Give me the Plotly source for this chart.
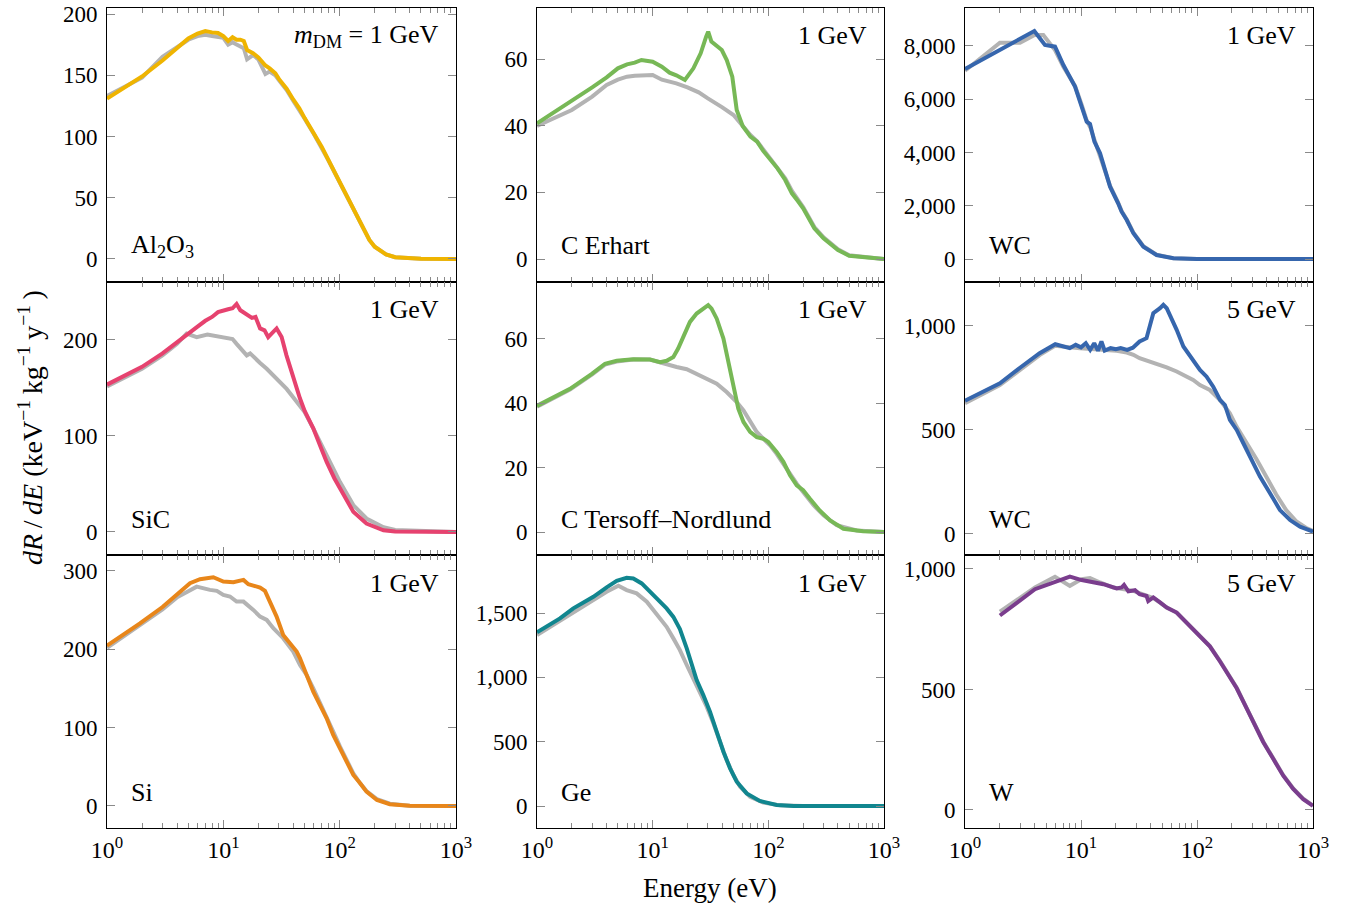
import plotly.graph_objects as go
from plotly.subplots import make_subplots

# ---------------- data: energy (eV) and dR/dE (keV^-1 kg^-1 y^-1) ----------------
# Al2O3, 1 GeV
AL2O3_E = [1, 2, 3, 4, 5, 6, 7, 8, 9, 10, 11, 12, 13, 14, 15, 16, 18, 20, 23, 25, 28, 30, 35, 40, 45, 50,
           60, 70, 80, 90, 100, 120, 140, 160, 180, 200, 250, 300, 400, 500, 1000]
AL2O3_MD = [131, 149, 162, 172, 180, 184, 186, 185, 184.5, 182, 178, 181, 179, 179, 178, 170.6, 168, 164.6,
            158, 155.6, 151.6, 147, 139, 130, 123, 115, 102.6, 91.7, 80.8, 71.3, 63, 48, 34.5, 23.7, 15.5,
            10, 3.8, 1.4, 0.3, 0.1, 0]
AL2O3_REF = [133, 148, 165, 173, 179, 182, 183, 182, 181, 180.5, 175, 177, 175, 173, 172, 163,
             166.5, 163, 151, 153, 150, 146, 138, 129, 122, 114.5, 102, 91, 80.5, 71, 62.5, 48, 34.5, 23.7,
             15.5, 10, 3.8, 1.4, 0.3, 0.1, 0]

# C (Erhart potential), 1 GeV
CE_E_MD = [1, 2, 3, 4, 5, 6, 7, 8, 9, 10, 12, 14, 16, 18, 19, 22.5, 26, 29, 30.2, 32.2, 36, 39.6, 43.7,
           48.8, 53.3, 57, 60, 70, 80, 90, 100, 120, 140, 160, 180, 200, 250, 300, 400, 500, 1000]
CE_MD = [40.7, 47.4, 51.5, 54.5, 57.2, 58.4, 58.9, 59.7, 59.5, 59.2, 57.7, 55.9, 55.1, 54, 53.7, 57.2,
         61.7, 66.7, 68.2, 65.2, 63.7, 62.7, 59.7, 54.7, 44.7, 41.7, 39.9, 36.7, 35.2, 32.5, 30.7, 27.2,
         23.7, 19.7, 17.4, 15.2, 9.2, 6.2, 2.7, 1, 0]
CE_E_REF = [1, 2, 3, 4, 5, 6, 7, 8, 10, 12, 14, 16, 20, 25, 30, 35, 40, 50, 60, 70, 80, 90, 100, 120, 140,
            160, 180, 200, 250, 300, 400, 500, 1000]
CE_REF = [39.9, 44.7, 48.7, 52.2, 53.8, 54.7, 55, 55, 55.2, 53.8, 53.3, 52.7, 51.5, 50, 48.2, 46.8, 45.5,
          43.2, 39.9, 37.2, 35.3, 33, 31, 27.6, 24.2, 20.4, 17.9, 15.6, 9.6, 6.5, 2.9, 1.1, 0]

# WC, 1 GeV
WC1_E_MD = [1, 3.96, 4.89, 5.97, 7.05, 8.88, 10.13, 11.2, 11.96, 13.05, 14.6, 16.1, 17.8, 20.9, 22.4,
            24.8, 28.3, 34.5, 44.8, 62.6, 100, 1000]
WC1_MD = [7136, 8563, 8038, 7975, 7286, 6473, 5720, 5157, 5070, 4407, 3969, 3343, 2717, 2091, 1777, 1465,
          965, 463, 150, 25, 3, 0]
WC1_E_REF = [1, 2, 2.98, 3.98, 4.73, 5.1, 5.97, 7.05, 8.88, 10.13, 11.2, 12, 13, 14.6, 16.1, 17.8, 20.9,
             22.4, 24.8, 28.3, 34.5, 44.8, 62.6, 100, 1000]
WC1_REF = [7070, 8125, 8125, 8413, 8413, 8225, 7850, 7222, 6500, 5800, 5200, 4950, 4500, 3900, 3400, 2750,
           2120, 1800, 1480, 990, 480, 160, 30, 3, 0]

# SiC, 1 GeV
SIC_E_MD = [1, 2, 3, 4, 5, 6, 7, 8, 9, 10, 11, 12, 13, 14, 15.9, 17.6, 18.9, 20.7, 22.6, 24.3, 28.7, 31.7,
            34.9, 39.9, 45.6, 50, 59.3, 70, 77.3, 90, 100.7, 131, 170, 238, 300, 1000]
SIC_MD = [153.5, 172, 186, 198, 207, 214, 220, 224, 229, 231, 232, 233, 237.5, 231, 227, 223, 224, 212,
          210, 203, 212, 203, 184, 160, 139, 126, 108, 86, 73, 56, 45, 21, 8.7, 1.7, 0.4, 0]
SIC_E_REF = [1, 2, 3, 4, 4.84, 5.9, 7.3, 8.5, 10, 11, 12, 13, 14, 15.9, 17, 18.9, 20.7, 23.6, 26.9, 30, 35,
             40, 45.6, 50, 59.3, 70, 77.3, 90, 100.7, 131, 170, 238, 300, 1000]
SIC_REF = [151.5, 170, 184, 196, 206.6, 203, 205.6, 204, 203, 201, 201, 196, 191, 184, 186, 180, 176, 170,
           163, 157, 149, 140, 132, 125, 108, 90, 79, 64, 52, 28, 14, 5, 2, 0]

# C (Tersoff-Nordlund potential), 1 GeV
CTN_E_MD = [1, 1.93, 3, 3.87, 4.89, 6.8, 9.47, 11.6, 13.2, 15.1, 16.6, 18.4, 21, 24, 27.4, 30.2, 32.3,
            35.8, 40.9, 46.7, 51.5, 55, 61, 69.6, 79.4, 90.5, 100, 118, 135, 154, 176, 200, 228, 278, 342,
            446, 660, 1000]
CTN_MD = [39.2, 44.5, 49.2, 52.3, 53.2, 53.7, 53.6, 52.8, 53.2, 54.4, 57, 60.6, 65.3, 67.9, 69.4, 70.5,
          69.4, 66.3, 60.1, 49.7, 42.5, 38.3, 34.2, 31.1, 29.5, 29, 28, 24.9, 21.8, 17.6, 14.5, 13, 10.4,
          6.7, 3.6, 1, 0.2, 0]
CTN_E_REF = [1, 1.93, 3, 3.87, 4.89, 6.8, 9.47, 12.4, 16.1, 19.7, 24, 29.3, 35.8, 43.6, 53.3, 61, 69.6,
             79.4, 90.5, 104, 118, 135, 154, 176, 200, 246, 300, 390, 580, 1000]
CTN_REF = [38.9, 44.3, 49, 52, 53, 53.6, 53.6, 52.3, 51.3, 50.6, 49.2, 47.7, 46.1, 43.5, 40.4, 37.8, 34.2,
           31.1, 29, 26.9, 24.3, 21.2, 17.8, 15, 12.4, 8.3, 5.2, 2.1, 0.5, 0]

# WC, 5 GeV
WC5_E_MD = [1, 2, 3, 4.4, 6, 7, 8, 9, 10, 11, 12, 13, 14, 15, 16, 18, 20, 22, 25, 28, 32, 36.7, 39.4, 42,
            48, 51.3, 54.8, 60, 66.8, 76.3, 87, 106, 121, 138, 158, 174, 192, 220, 251, 286, 349, 426, 519,
            634, 773, 1000]
WC5_MD = [641, 724, 800, 869, 912, 901, 893, 909, 897, 917, 885, 917, 881, 925, 881, 893, 888, 893, 885,
          895, 925, 941, 1013, 1061, 1085, 1101, 1085, 1040, 981, 901, 853, 788, 756, 708, 644, 620, 548,
          500, 436, 372, 276, 196, 115, 67, 35, 11]
WC5_E_REF = [1, 2, 4.43, 5.97, 9.8, 14.6, 20.3, 24.8, 28.3, 32, 39.4, 48, 54.8, 66.8, 81.5, 92.7, 106, 129,
             158, 192, 220, 267, 325, 396, 482, 587, 714, 868, 1000]
WC5_REF = [628, 716, 861, 904, 893, 885, 881, 872, 861, 845, 829, 813, 801, 781, 756, 740, 716, 692, 644,
           580, 515, 440, 360, 275, 190, 115, 62, 30, 14]

# Si, 1 GeV
SI_E_MD = [1, 1.92, 3, 3.97, 5.17, 6.3, 8.2, 10, 12.2, 14.9, 16.4, 18.1, 20.7, 22.8, 25.2, 28.7, 32.7,
           37.4, 42.7, 45.6, 52, 59.3, 67.6, 77.3, 88, 100.7, 115, 131, 150, 170, 209, 270, 400, 1000]
SI_MD = [204.7, 233, 254, 269.5, 284.4, 289.5, 292, 286.5, 285.7, 288.6, 283.1, 281.4, 278.8, 274.6,
         260.9, 241.8, 218.4, 207.8, 197.1, 188.6, 167.3, 146, 129, 112, 90.7, 73.7, 56.6, 39.6, 29, 18.3,
         7.7, 2.2, 0.3, 0]
SI_E_REF = [1, 1.92, 3, 3.97, 5.9, 7.67, 8.8, 10, 11.4, 13, 14.9, 18.1, 20.7, 23.6, 26.9, 32.7, 39.9, 45.6,
            52, 59.3, 67.6, 77.3, 88, 100.7, 115, 131, 150, 170, 209, 270, 400, 1000]
SI_REF = [202, 231, 251, 266, 280, 275.9, 274.6, 269.5, 267.4, 260.9, 260.9, 250.3, 241.8, 237.5, 226.9,
          214.2, 197.1, 180, 167.3, 150.3, 131, 114, 95, 75.7, 58.7, 41.7, 29, 19, 8.9, 2.9, 0.4, 0]

# Ge, 1 GeV
GE_E_MD = [1, 1.58, 2.06, 3.07, 4, 4.89, 5.96, 6.8, 8.04, 9.17, 10.1, 11.6, 13.2, 15.1, 17.2, 19.7, 21.7,
           24, 27.4, 31.3, 35.8, 40.9, 46.7, 53.3, 65, 84.3, 118, 165, 1000]
GE_MD = [1350, 1458, 1536, 1626, 1700, 1750, 1774, 1769, 1730, 1678, 1639, 1588, 1536, 1470, 1375, 1225,
         1096, 979, 862, 733, 577, 422, 293, 189, 98, 39, 8, 0, 0]
GE_E_REF = [1, 2.06, 3.07, 4, 5.05, 5.96, 7.27, 8.89, 10.1, 11.6, 13.2, 15.1, 17.2, 19.7, 22.4, 25.6, 29.3,
            33.5, 38.2, 43.6, 49.9, 57, 69.5, 90.5, 126, 200, 1000]
GE_REF = [1329, 1510, 1601, 1665, 1712, 1678, 1653, 1588, 1523, 1458, 1393, 1303, 1212, 1096, 992, 888,
          772, 643, 500, 357, 241, 150, 72, 26, 5, 0, 0]

# W, 5 GeV
W_E_MD = [2, 4.01, 8.02, 10.13, 15.6, 20.3, 22.4, 23.5, 25.6, 29.2, 32, 36.7, 38, 42, 48, 54.8, 66.8, 76.3,
          87, 106, 129, 158, 192, 220, 268, 305, 372, 454, 554, 675, 823, 1000]
W_MD = [807, 916, 968, 954, 937, 919, 923, 934, 907, 912, 895, 888, 867, 882, 861, 840, 819, 791, 763, 721,
        679, 616, 547, 505, 421, 365, 282, 212, 142, 87, 45, 17]
W_E_REF = [2, 4.01, 5.97, 8.02, 10.13, 11.96, 14.6, 19, 28.3, 42, 48, 54.8, 66.8, 76.3, 87, 106, 129, 158,
           192, 220, 268, 305, 372, 454, 554, 675, 823, 1000]
W_REF = [823, 923, 968, 930, 958, 962, 944, 923, 909, 879, 860, 840, 819, 792, 764, 722, 680, 618, 549, 507,
         423, 367, 284, 214, 144, 89, 47, 18]

# panel labels and axis settings
MATERIALS = ["Al<sub>2</sub>O<sub>3</sub>", "C Erhart", "WC",
             "SiC", "C Tersoff\u2013Nordlund", "WC",
             "Si", "Ge", "W"]
MASSES = ["<i>m</i><sub>DM</sub> = 1 GeV", "1 GeV", "1 GeV",
          "1 GeV", "1 GeV", "5 GeV",
          "1 GeV", "1 GeV", "5 GeV"]
Y_RANGES = [[-18.8, 204.9], [-6.9, 75.3], [-864, 9427],
            [-24, 260.4], [-7.15, 77.7], [-101, 1211],
            [-28.1, 320.4], [-171, 1951], [-75, 1058]]
Y_DTICKS = [50, 20, 2000, 100, 20, 500, 100, 500, 500]
X_TICKS = [1, 10, 100, 1000]
X_TICKTEXT = ["10<sup>0</sup>", "10<sup>1</sup>", "10<sup>2</sup>", "10<sup>3</sup>"]

GREY = "#b3b3b3"
COLORS = ["#efb400", "#77b856", "#3666ad",
          "#e6426f", "#77b856", "#3666ad",
          "#e8861a", "#11868f", "#7a3d8d"]

SERIES = [
    (AL2O3_E, AL2O3_REF, AL2O3_E, AL2O3_MD),
    (CE_E_REF, CE_REF, CE_E_MD, CE_MD),
    (WC1_E_REF, WC1_REF, WC1_E_MD, WC1_MD),
    (SIC_E_REF, SIC_REF, SIC_E_MD, SIC_MD),
    (CTN_E_REF, CTN_REF, CTN_E_MD, CTN_MD),
    (WC5_E_REF, WC5_REF, WC5_E_MD, WC5_MD),
    (SI_E_REF, SI_REF, SI_E_MD, SI_MD),
    (GE_E_REF, GE_REF, GE_E_MD, GE_MD),
    (W_E_REF, W_REF, W_E_MD, W_MD),
]

# ---------------- figure ----------------
W_PX, H_PX = 1359, 911
FONT = "Liberation Serif"
TICK_FS = 23
XTICK_FS = 24
LABEL_FS = 26
TITLE_FS = 27
LINE_W = 4

col_px = [(107, 456), (537, 884), (965, 1313)]
row_px = [(8, 282), (282, 555), (555, 828)]

fig = make_subplots(rows=3, cols=3)

minor_vals = [m * 10 ** d for d in range(3) for m in range(2, 10)]

for i, (ex_r, y_r, ex_m, y_m) in enumerate(SERIES):
    r, c = divmod(i, 3)
    fig.add_trace(go.Scatter(x=ex_r, y=y_r, mode="lines",
                             line=dict(color=GREY, width=LINE_W), showlegend=False,
                             hoverinfo="skip"), row=r + 1, col=c + 1)
    fig.add_trace(go.Scatter(x=ex_m, y=y_m, mode="lines",
                             line=dict(color=COLORS[i], width=LINE_W), showlegend=False),
                  row=r + 1, col=c + 1)

    idx = "" if i == 0 else str(i + 1)
    x0, x1 = col_px[c]
    y0, y1 = row_px[r]
    fig.layout["xaxis" + idx].update(
        domain=[x0 / W_PX, x1 / W_PX], type="log", range=[0, 3], automargin=False,
        showline=True, linecolor="black", linewidth=1, mirror="allticks",
        ticks="inside", ticklen=8, tickwidth=1, tickcolor="#8a8a8a",
        tickvals=X_TICKS, ticktext=X_TICKTEXT, showticklabels=(r == 2),
        tickfont=dict(family=FONT, size=XTICK_FS, color="black"),
        showgrid=False, zeroline=False,
        minor=dict(ticks="inside", ticklen=5, tickwidth=1, tickcolor="#8a8a8a",
                   tickmode="array", tickvals=minor_vals, showgrid=False),
    )
    fig.layout["yaxis" + idx].update(
        domain=[1 - y1 / H_PX, 1 - y0 / H_PX], range=Y_RANGES[i], automargin=False,
        showline=True, linecolor="black", linewidth=1, mirror="allticks",
        ticks="inside", ticklen=8, tickwidth=1, tickcolor="#8a8a8a",
        tick0=0, dtick=Y_DTICKS[i], tickformat=",",
        tickfont=dict(family=FONT, size=TICK_FS, color="black"),
        showgrid=False, zeroline=False, ticklabelstandoff=4,
    )

    xd = "x" + idx + " domain"
    yd = "y" + idx + " domain"
    fig.add_annotation(text=MASSES[i], xref=xd, yref=yd, x=1, y=1,
                       xanchor="right", yanchor="middle", xshift=-15, yshift=-28,
                       showarrow=False, font=dict(family=FONT, size=LABEL_FS, color="black"))
    fig.add_annotation(text=MATERIALS[i], xref=xd, yref=yd, x=0, y=0,
                       xanchor="left", yanchor="middle", xshift=22, yshift=36,
                       showarrow=False, font=dict(family=FONT, size=LABEL_FS, color="black"))

# shared axis titles
TS = "\u2009"
fig.add_annotation(text="<i>dR</i>" + TS + "/" + TS + "<i>dE</i> (keV<sup>\u22121</sup>" + TS + "kg<sup>\u22121</sup>"
                        + TS + "y<sup>\u22121</sup>" + TS + ")",
                   xref="paper", yref="paper", x=30 / W_PX, y=1 - 428 / H_PX,
                   xanchor="center", yanchor="middle", textangle=-90, showarrow=False,
                   font=dict(family=FONT, size=TITLE_FS + 1, color="black"))
fig.add_annotation(text="Energy (eV)", xref="paper", yref="paper",
                   x=710 / W_PX, y=1 - 888 / H_PX, xanchor="center", yanchor="middle",
                   showarrow=False, font=dict(family=FONT, size=TITLE_FS, color="black"))

fig.update_layout(width=W_PX, height=H_PX,
                  margin=dict(l=0, r=0, t=0, b=0, autoexpand=False),
                  paper_bgcolor="white", plot_bgcolor="white",
                  font=dict(family=FONT, size=TICK_FS, color="black"))

fig.write_html("out.html")
